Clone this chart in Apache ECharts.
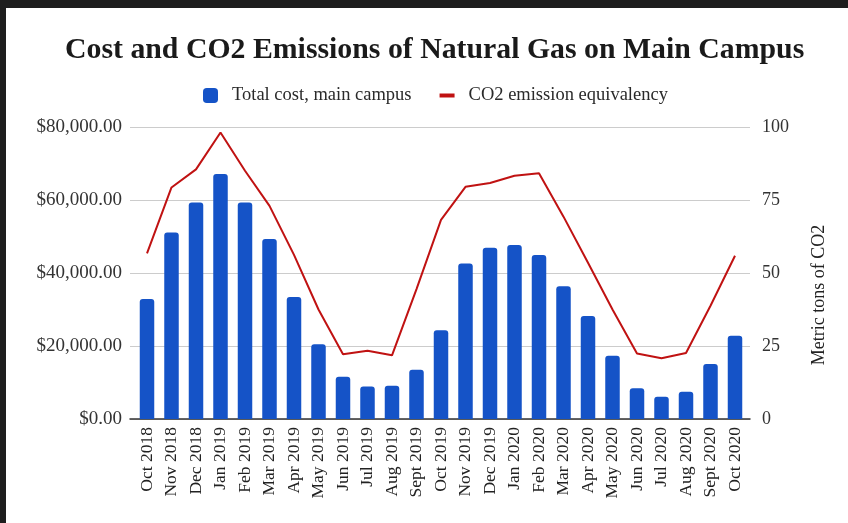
<!DOCTYPE html>
<html>
<head>
<meta charset="utf-8">
<script src="https://cdn.jsdelivr.net/npm/echarts@6/dist/echarts.min.js"></script>
<style>
  html, body { margin: 0; padding: 0; background: #ffffff; }
  #chart { width: 848px; height: 523px; }
</style>
</head>
<body>
<div id="chart"></div>
<script>
// Monthly natural gas cost and CO2 equivalent, main campus
const months = ['Oct 2018', 'Nov 2018', 'Dec 2018', 'Jan 2019', 'Feb 2019', 'Mar 2019', 'Apr 2019',
  'May 2019', 'Jun 2019', 'Jul 2019', 'Aug 2019', 'Sept 2019', 'Oct 2019', 'Nov 2019', 'Dec 2019',
  'Jan 2020', 'Feb 2020', 'Mar 2020', 'Apr 2020', 'May 2020', 'Jun 2020', 'Jul 2020', 'Aug 2020',
  'Sept 2020', 'Oct 2020'];

const totalCost = [32900, 51100, 59300, 67100, 59300, 49300, 33400, 20500, 11600, 8900, 9100, 13500,
  24300, 42600, 46900, 47700, 44900, 36400, 28200, 17300, 8400, 6100, 7500, 15100, 22800];

const co2Tons = [56.7, 79.3, 85.5, 98.1, 85.0, 73.0, 56.2, 37.5, 22.2, 23.4, 21.8, 44.5,
  68.2, 79.5, 80.8, 83.3, 84.2, 69.3, 53.5, 37.5, 22.4, 20.8, 22.6, 38.8, 55.9];

const costTicks = { min: 0, max: 80000, interval: 20000 };
const co2Ticks = { min: 0, max: 100, interval: 25 };

const serif = 'Liberation Serif';
const chart = echarts.init(document.getElementById('chart'), null, { renderer: 'canvas' });

const money = v => '$' + v.toLocaleString('en-US', { minimumFractionDigits: 2, maximumFractionDigits: 2 });

// flat bar used as the legend key of the line series (outer moves keep a square box)
const lineKey = 'path://M0,0M0,5.5h15v4h-15zM15,15';

chart.setOption({
  animation: false,
  backgroundColor: '#ffffff',
  title: {
    text: 'Cost and CO2 Emissions of Natural Gas on Main Campus',
    left: 60,
    top: 30,
    textStyle: { fontFamily: serif, fontWeight: 'bold', fontSize: 29.8, color: '#1a1a1a' }
  },
  legend: {
    left: 198,
    top: 81,
    itemWidth: 15,
    itemHeight: 15,
    itemGap: 28,
    textStyle: { fontFamily: serif, fontSize: 18.5, color: '#2a2a2a', padding: [0, 0, 0, 9] },
    data: [
      { name: 'Total cost, main campus', icon: 'roundRect' },
      { name: 'CO2 emission equivalency', icon: lineKey }
    ]
  },
  grid: [
    // frame for gridlines and the baseline
    { left: 130, right: 98, top: 127, bottom: 104 },
    // plotting area for bars and line
    { left: 134.75, right: 100.75, top: 127, bottom: 104 }
  ],
  xAxis: [
    {
      gridIndex: 0, type: 'value', min: 0, max: 1,
      axisLine: { show: true, lineStyle: { color: '#333', width: 1.5 } },
      axisTick: { show: false }, axisLabel: { show: false }, splitLine: { show: false }
    },
    {
      gridIndex: 1, type: 'category', data: months,
      axisLine: { show: false }, axisTick: { show: false },
      axisLabel: { rotate: 90, margin: 8, fontFamily: serif, fontSize: 17.5, color: '#222', interval: 0 }
    }
  ],
  yAxis: [
    {
      gridIndex: 0, type: 'value', position: 'left', ...costTicks,
      axisLine: { show: false }, axisTick: { show: false },
      axisLabel: { formatter: money, margin: 8, fontFamily: serif, fontSize: 19, color: '#333' },
      splitLine: { lineStyle: { color: '#cccccc', width: 1 } }
    },
    {
      gridIndex: 0, type: 'value', position: 'right', ...co2Ticks,
      axisLine: { show: false }, axisTick: { show: false },
      axisLabel: { margin: 12, fontFamily: serif, fontSize: 18, color: '#333' },
      splitLine: { show: false }
    },
    { gridIndex: 1, type: 'value', ...costTicks, show: false, splitLine: { show: false } },
    { gridIndex: 1, type: 'value', ...co2Ticks, show: false, splitLine: { show: false } }
  ],
  graphic: [
    { type: 'rect', shape: { x: 0, y: 0, width: 848, height: 8 }, style: { fill: '#1e1e1e' }, silent: true },
    { type: 'rect', shape: { x: 0, y: 0, width: 6, height: 523 }, style: { fill: '#1e1e1e' }, silent: true },
    {
      type: 'text', x: 819, y: 295, rotation: Math.PI / 2,
      style: { text: 'Metric tons of CO2', font: '18px "Liberation Serif"', fill: '#222',
        textAlign: 'center', textVerticalAlign: 'middle' }
    }
  ],
  series: [
    {
      name: 'Total cost, main campus', type: 'bar', xAxisIndex: 1, yAxisIndex: 2,
      data: totalCost, barWidth: 14.5,
      itemStyle: { color: '#1553c7', borderRadius: [3, 3, 0, 0] }
    },
    {
      name: 'CO2 emission equivalency', type: 'line', xAxisIndex: 1, yAxisIndex: 3,
      data: co2Tons, symbol: 'none', smooth: false,
      lineStyle: { color: '#c01212', width: 2 }, itemStyle: { color: '#c01212' }
    }
  ]
});
</script>
</body>
</html>
